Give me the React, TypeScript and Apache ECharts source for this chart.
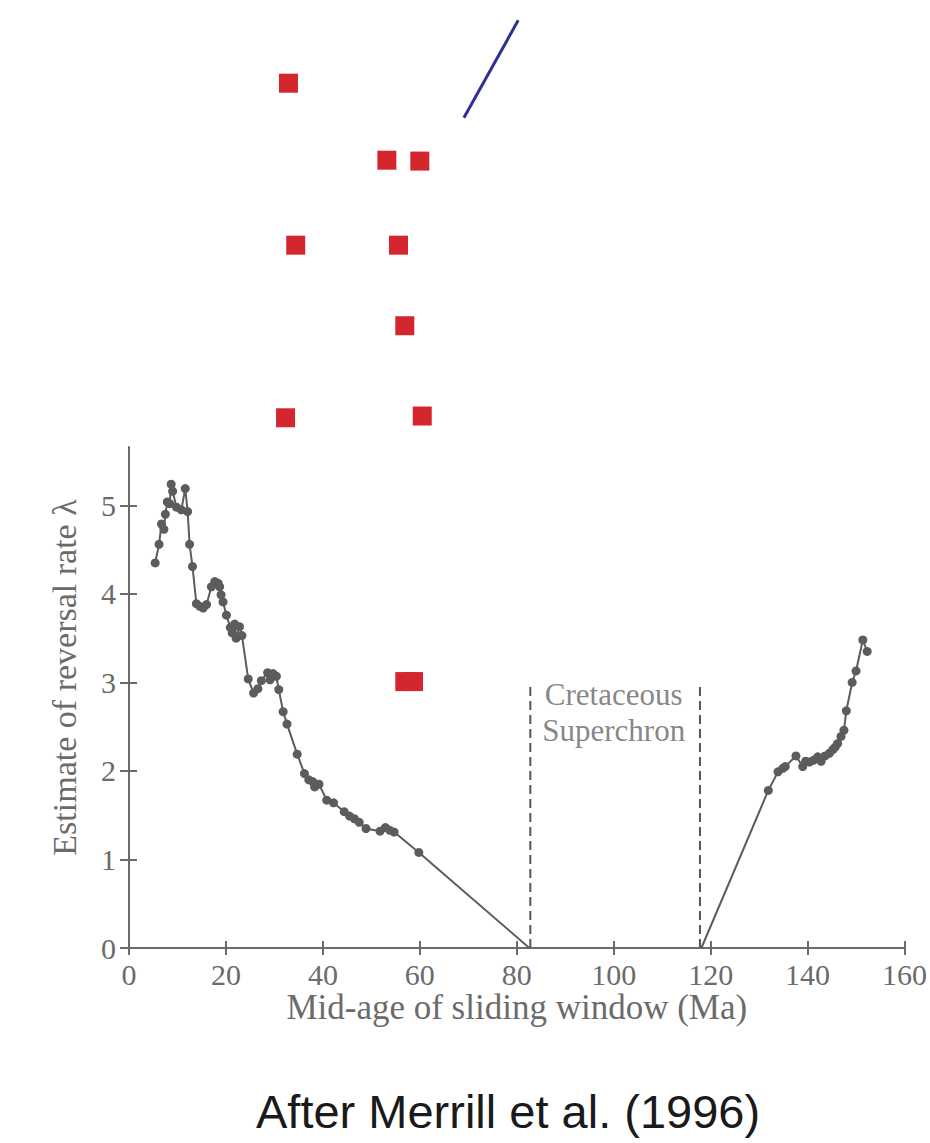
import React, { useEffect, useRef } from "react";
import * as echarts from "echarts";

// ---- data ----
const xTickValues = [0, 20, 40, 60, 80, 100, 120, 140, 160];
const yTickValues = [0, 1, 2, 3, 4, 5];
const yAxisTop = 5.66;

// reversal-rate estimates, before the Cretaceous Superchron (Ma, lambda)
const rateBefore: [number, number][] = [
  [5.4, 4.35], [6.2, 4.56], [6.7, 4.79], [7.2, 4.73], [7.5, 4.9], [7.9, 5.04],
  [8.4, 5.02], [8.7, 5.24], [9.0, 5.16], [9.8, 4.98], [10.8, 4.95], [11.6, 5.19],
  [12.1, 4.93], [12.5, 4.56], [13.1, 4.31], [13.9, 3.89], [14.6, 3.86], [15.3, 3.84],
  [16.0, 3.88], [17.0, 4.08], [17.7, 4.14], [18.4, 4.12], [18.7, 4.08], [19.0, 3.99],
  [19.4, 3.91], [20.1, 3.76], [20.9, 3.62], [21.3, 3.56], [21.8, 3.66], [22.1, 3.5],
  [22.8, 3.63], [23.3, 3.53], [24.6, 3.04], [25.7, 2.88], [26.6, 2.93], [27.3, 3.02],
  [28.6, 3.11], [29.1, 3.03], [29.7, 3.1], [30.4, 3.07], [30.9, 2.92], [31.8, 2.67],
  [32.6, 2.53], [34.7, 2.19], [36.2, 1.97], [37.1, 1.9], [37.9, 1.88], [38.3, 1.82],
  [39.2, 1.85], [40.8, 1.67], [42.2, 1.64], [44.4, 1.54], [45.5, 1.49], [46.5, 1.46],
  [47.5, 1.42], [48.9, 1.35], [51.8, 1.32], [52.9, 1.36], [53.8, 1.33], [54.7, 1.31],
  [59.8, 1.08],
];

// reversal-rate estimates, after the superchron
const rateAfter: [number, number][] = [
  [131.9, 1.78], [133.9, 1.99], [134.9, 2.03], [135.4, 2.05], [137.6, 2.17],
  [139.0, 2.05], [139.6, 2.11], [140.4, 2.1], [141.2, 2.12], [142.1, 2.16],
  [142.8, 2.11], [143.6, 2.17], [144.5, 2.2], [145.2, 2.24], [145.7, 2.27],
  [146.2, 2.31], [146.9, 2.39], [147.5, 2.46], [148.0, 2.68], [149.2, 3.0],
  [150.0, 3.13], [151.4, 3.48], [152.3, 3.35],
];

// where the lines reach zero (no marker)
const zeroCrossings = [82.6, 118.1];
// superchron boundaries (dashed lines) and their height
const superchronBounds = [82.8, 117.8];
const superchronTop = 3;
const superchronLabelPos: [number, number] = [100, 2.66];

// overlay marks (in chart data units)
const redSquares: [number, number][] = [
  [32.9, 9.77], [53.2, 8.9], [60.0, 8.89], [34.4, 7.94], [55.6, 7.94],
  [56.9, 7.03], [32.3, 5.99], [60.5, 6.01], [56.9, 3.01], [58.7, 3.01],
];
const blueStroke: [number, number][] = [[80.3, 10.48], [69.1, 9.38]];

const GRAY = "#6b6b6b";
const SERIF = "'Liberation Serif', 'Times New Roman', serif";

export default function App() {
  const ref = useRef<HTMLDivElement>(null);

  useEffect(() => {
    if (!ref.current) return;
    const chart = echarts.init(ref.current, null, { renderer: "svg" });

    const axisLineStyle = { color: GRAY, width: 2 };

    const option: any = {
      animation: false,
      backgroundColor: "#ffffff",
      title: {
        text: "After Merrill et al. (1996)",
        left: 251,
        top: 1083,
        textStyle: {
          fontFamily: "'Liberation Sans', Arial, sans-serif",
          fontSize: 47,
          fontWeight: "normal",
          color: "#1a1a1a",
        },
      },
      grid: { left: 129, right: 23, top: 447, bottom: 195, containLabel: false },
      xAxis: [
        {
          type: "value",
          min: 0,
          max: 160,
          interval: 20,
          position: "bottom",
          axisLine: { show: true, onZero: false, lineStyle: axisLineStyle },
          axisTick: { show: true, length: 7, lineStyle: axisLineStyle },
          axisLabel: { fontFamily: SERIF, fontSize: 30, color: GRAY, margin: 11 },
          splitLine: { show: false },
          name: "Mid-age of sliding window (Ma)",
          nameLocation: "middle",
          nameGap: 42,
          nameTextStyle: { fontFamily: SERIF, fontSize: 35, color: GRAY },
        },
        {
          type: "value",
          min: 0,
          max: 160,
          interval: 20,
          position: "bottom",
          axisLine: { show: false },
          axisTick: { show: true, inside: true, length: 7, lineStyle: axisLineStyle },
          axisLabel: { show: false },
          splitLine: { show: false },
        },
      ],
      yAxis: [
        {
          type: "value",
          min: 0,
          max: yAxisTop,
          position: "left",
          axisLine: { show: true, onZero: false, lineStyle: axisLineStyle },
          axisTick: { show: true, length: 9, lineStyle: axisLineStyle, customValues: yTickValues },
          axisLabel: {
            fontFamily: SERIF,
            fontSize: 30,
            color: GRAY,
            margin: 13,
            customValues: yTickValues,
          },
          splitLine: { show: false },
          name: "Estimate of reversal rate λ",
          nameLocation: "middle",
          nameGap: 48,
          nameTextStyle: { fontFamily: SERIF, fontSize: 34, color: GRAY, padding: [0, 0, 0, 40] },
        },
        {
          type: "value",
          min: 0,
          max: yAxisTop,
          position: "left",
          axisLine: { show: false },
          axisTick: { show: true, inside: true, length: 8, lineStyle: axisLineStyle, customValues: yTickValues },
          axisLabel: { show: false },
          splitLine: { show: false },
        },
      ],
      series: [
        {
          type: "line",
          name: "before",
          data: [
            ...rateBefore,
            { value: [zeroCrossings[0], 0], symbol: "none" },
          ],
          symbol: "circle",
          symbolSize: 9,
          showSymbol: true,
          itemStyle: { color: "#5c5c5c" },
          lineStyle: { color: "#5c5c5c", width: 2 },
          z: 3,
        },
        {
          type: "line",
          name: "after",
          data: [
            { value: [zeroCrossings[1], 0], symbol: "none" },
            ...rateAfter,
          ],
          symbol: "circle",
          symbolSize: 9,
          showSymbol: true,
          itemStyle: { color: "#5c5c5c" },
          lineStyle: { color: "#5c5c5c", width: 2 },
          z: 3,
        },
        ...superchronBounds.map((b) => ({
          type: "line",
          data: [[b, 0], [b, superchronTop]],
          symbol: "none",
          lineStyle: { color: "#555555", width: 2, type: [9, 5] },
          z: 2,
        })),
        {
          type: "scatter",
          data: [superchronLabelPos],
          symbolSize: 1,
          itemStyle: { color: "rgba(0,0,0,0)" },
          label: {
            show: true,
            position: "inside",
            formatter: "Cretaceous\nSuperchron",
            fontFamily: SERIF,
            fontSize: 31,
            lineHeight: 36,
            color: "#666666",
            align: "center",
            verticalAlign: "middle",
          },
          z: 2,
        },
        {
          type: "scatter",
          data: redSquares,
          symbol: "rect",
          symbolSize: 19,
          clip: false,
          itemStyle: { color: "#d3262e", opacity: 1 },
          z: 5,
        },
        {
          type: "line",
          data: blueStroke,
          symbol: "none",
          clip: false,
          lineStyle: { color: "#2e3192", width: 3 },
          z: 5,
        },
      ],
    };

    chart.setOption(option);
    return () => chart.dispose();
  }, []);

  return (
    <div
      ref={ref}
      style={{ position: "absolute", left: 0, top: 0, width: 930, height: 1143 }}
    />
  );
}
